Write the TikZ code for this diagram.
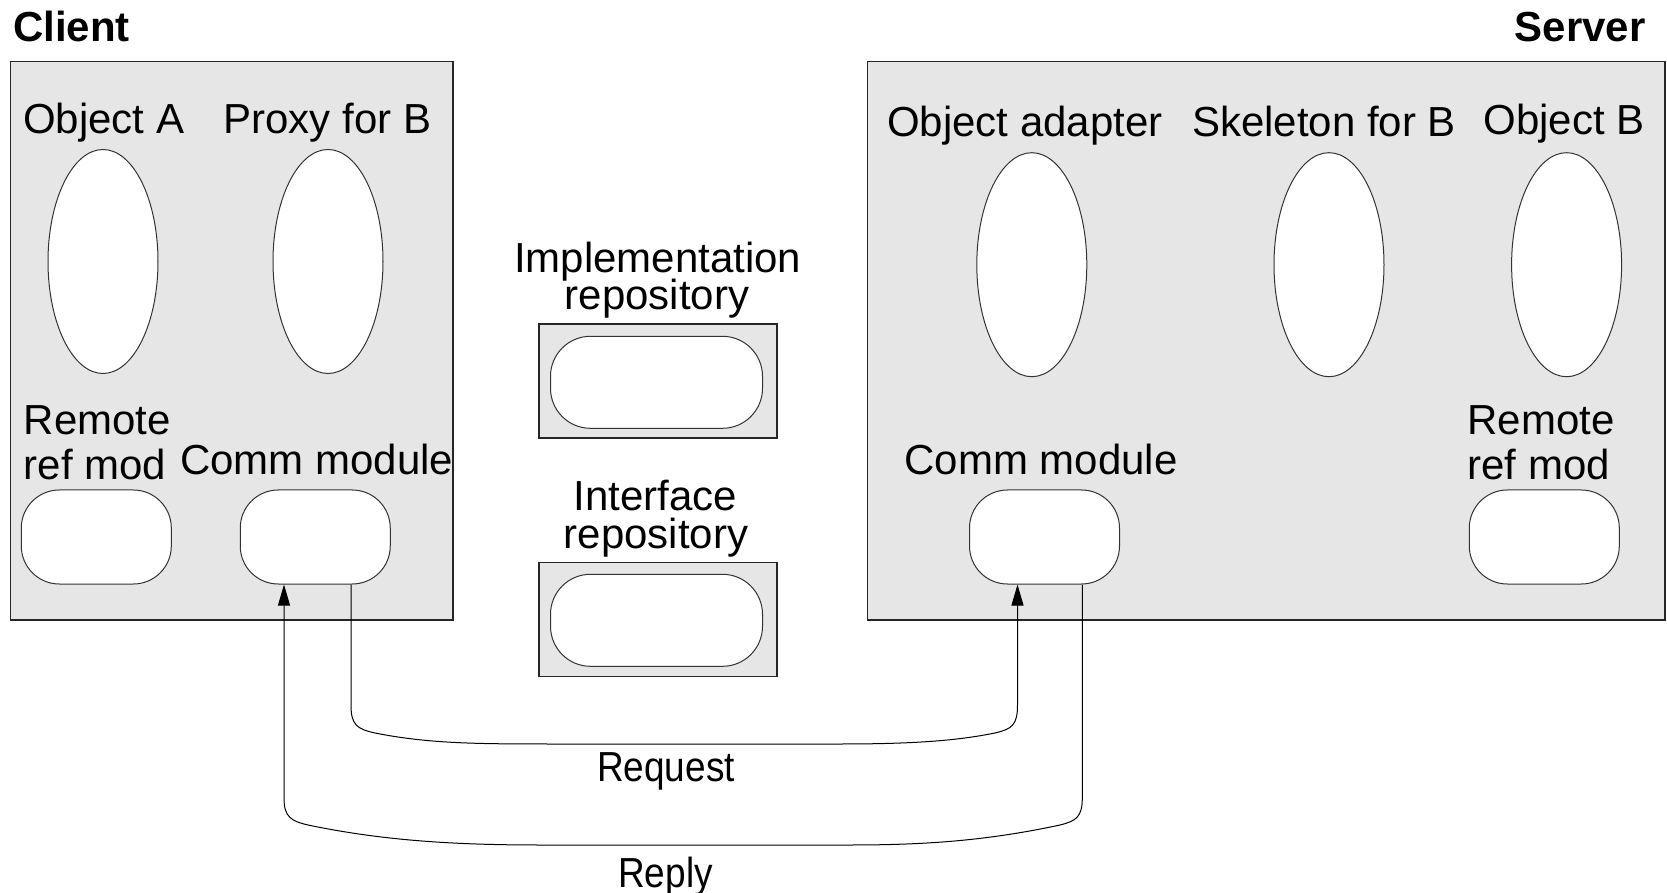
\documentclass[tikz,border=0pt]{standalone}
\usepackage{fontspec}
\setmainfont{Liberation Sans}
\usetikzlibrary{shapes.geometric,arrows.meta,calc}
\definecolor{panel}{RGB}{230,230,230}
\begin{document}
\begin{tikzpicture}[x=0.5pt,y=-0.5pt,
  lbl/.style={font=\fontsize{21}{24}\selectfont, inner sep=0, anchor=base},
  ttl/.style={font=\fontsize{21}{24}\selectfont\bfseries, inner sep=0},
  panelbox/.style={rectangle, draw=black!85, line width=0.7pt, fill=panel, inner sep=0},
  obj/.style={ellipse, draw=black!80, line width=0.5pt, fill=white,
    minimum width=55pt, minimum height=112pt, inner sep=0},
  module/.style={rectangle, draw=black!80, line width=0.5pt, fill=white,
    rounded corners=19pt, minimum width=75pt, minimum height=47pt, inner sep=0},
  repo/.style={rectangle, draw=black!80, line width=0.5pt, fill=white,
    rounded corners=20pt, minimum width=106pt, minimum height=46pt, inner sep=0},
  conn/.style={draw=black, line width=0.5pt, -{Triangle[length=10.5pt,width=6pt]}}]

\useasboundingbox (0,0) rectangle (1667,893);

% headings
\node[ttl, anchor=base west] (clientT) at (12.8,41.5) {Client};
\node[ttl, anchor=base east] (serverT) at (1646,41.5) {Server};

% process panels
\node[panelbox, minimum width=221.2pt, minimum height=279.15pt] (client) at (231.8,340.85) {};
\node[panelbox, minimum width=398.7pt, minimum height=279.15pt] (server) at (1266.3,340.85) {};

% repositories
\node[panelbox, minimum width=119pt, minimum height=57pt] (implbox) at (658,381.2) {};
\node[repo] (impl) at (656.5,382.3) {};
\node[panelbox, minimum width=119pt, minimum height=57pt] (ifacebox) at (658,619.3) {};
\node[repo] (iface) at (656.5,620.3) {};
\node[lbl] (implT1) at (657.6,273) {Implementation};
\node[lbl] (implT2) at (657,310) {repository};
\node[lbl] (ifaceT1) at (655.5,510) {Interface};
\node[lbl] (ifaceT2) at (656,548) {repository};

% client side
\node[obj] (objA) at (103,261.5) {};
\node[obj] (proxyB) at (328,261.5) {};
\node[lbl] (objAT) at (103.7,134) {Object A};
\node[lbl] (proxyBT) at (327.5,134) {Proxy for B};
\node[module] (cremote) at (96.3,537) {};
\node[module] (ccomm) at (315.25,537) {};
\node[lbl, anchor=base west] (cremT1) at (23.4,435) {Remote};
\node[lbl, anchor=base west] (cremT2) at (23.4,479.5) {ref mod};
\node[lbl] (ccommT) at (316.8,474) {Comm module};

% server side
\node[obj] (adapter) at (1031.8,264.7) {};
\node[obj] (skel) at (1329,264.7) {};
\node[obj] (objB) at (1566.6,264.7) {};
\node[lbl] (adapterT) at (1025,137) {Object adapter};
\node[lbl] (skelT) at (1324,137) {Skeleton for B};
\node[lbl] (objBT) at (1564,135) {Object B};
\node[module] (scomm) at (1044.5,537) {};
\node[module] (sremote) at (1544.3,537) {};
\node[lbl] (scommT) at (1041,474) {Comm module};
\node[lbl, anchor=base west] (sremT1) at (1467,435) {Remote};
\node[lbl, anchor=base west] (sremT2) at (1467,479.5) {ref mod};

% request and reply messages
\draw[conn] ($(ccomm.south)+(35.75,0)$) -- (351,705)
  .. controls (351,725) and (357,729) .. (375,733)
  .. controls (430,744) and (480,744) .. (560,744) -- (840,744)
  .. controls (920,744) and (960,740) .. (995,733)
  .. controls (1012,729) and (1017.5,725) .. (1017.5,705)
  -- ($(scomm.south)+(-27,0)$);
\draw[conn] ($(scomm.south)+(37.8,0)$) -- (1082.3,798)
  .. controls (1082.3,817) and (1076,821) .. (1060,825)
  .. controls (990,840) and (930,845) .. (850,845) -- (540,845)
  .. controls (450,845) and (380,840) .. (308,825)
  .. controls (291,821) and (284,817) .. (284,798)
  -- ($(ccomm.south)+(-31.25,0)$);
\node[lbl] (reqT) at (666,781) {\scalebox{0.88}[1]{Request}};
\node[lbl] (repT) at (665.5,887) {\scalebox{0.88}[1]{Reply}};
\end{tikzpicture}
\end{document}
